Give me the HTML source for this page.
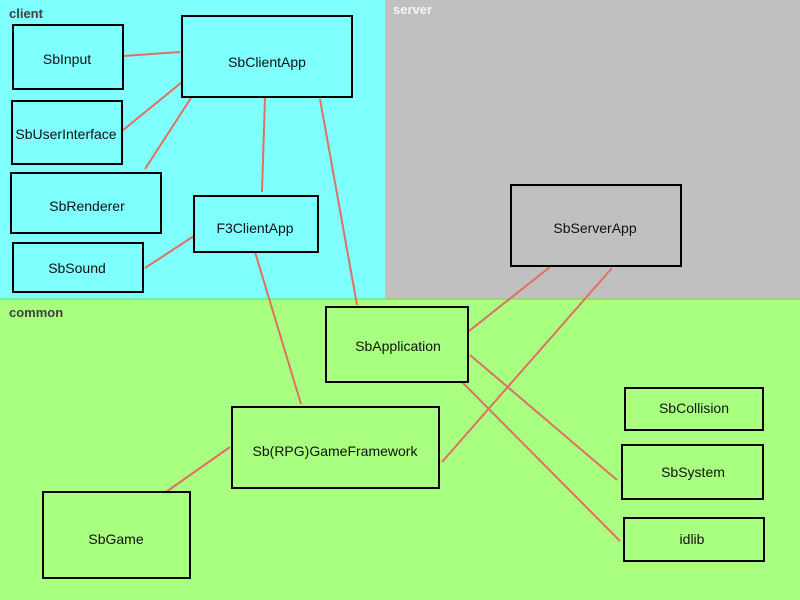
<!DOCTYPE html>
<html><head><style>
html,body{margin:0;padding:0;width:800px;height:600px;overflow:hidden}
svg text{font-family:"Liberation Sans",sans-serif}
</style></head><body>
<svg width="800" height="600" viewBox="0 0 800 600" xmlns="http://www.w3.org/2000/svg">
<rect x="0" y="0" width="385" height="299" fill="#80ffff"/>
<rect x="385" y="0" width="415" height="299" fill="#c0c0c0"/>
<rect x="0" y="299" width="800" height="301" fill="#a8ff80"/>
<line x1="0" y1="299" x2="385" y2="299" stroke="#70f0b0" stroke-width="2"/>
<line x1="385" y1="299" x2="800" y2="299" stroke="#a0d090" stroke-width="2"/>
<text x="9" y="18" font-size="13" font-weight="bold" fill="#404040">client</text>
<text x="393" y="14" font-size="13" font-weight="bold" fill="#f4f4f4">server</text>
<text x="9" y="317" font-size="13" font-weight="bold" fill="#404040">common</text>
<g stroke="#e07060" stroke-width="2" fill="none">
<line x1="123" y1="56" x2="180" y2="52"/>
<line x1="122" y1="131" x2="182" y2="82"/>
<line x1="145" y1="169" x2="191" y2="98"/>
<line x1="265" y1="98" x2="262" y2="192"/>
<line x1="320" y1="99" x2="357" y2="305"/>
<line x1="145" y1="268" x2="194" y2="236"/>
<line x1="255" y1="252" x2="301" y2="404"/>
<line x1="469" y1="331" x2="550" y2="267"/>
<line x1="442" y1="462" x2="612" y2="268"/>
<line x1="470" y1="355" x2="617" y2="480"/>
<line x1="462" y1="382" x2="620" y2="541"/>
<line x1="166" y1="492" x2="230" y2="447"/>
</g>
<g stroke="#000" stroke-width="2" fill="none">
<rect x="13" y="25" width="110" height="64"/>
<rect x="12" y="101" width="110" height="63"/>
<rect x="11" y="173" width="150" height="60"/>
<rect x="13" y="243" width="130" height="49"/>
<rect x="182" y="16" width="170" height="81"/>
<rect x="194" y="196" width="124" height="56"/>
<rect x="511" y="185" width="170" height="81"/>
<rect x="326" y="307" width="142" height="75"/>
<rect x="232" y="407" width="207" height="81"/>
<rect x="43" y="492" width="147" height="86"/>
<rect x="625" y="388" width="138" height="42"/>
<rect x="622" y="445" width="141" height="54"/>
<rect x="624" y="518" width="140" height="43"/>
</g>
<g font-size="14" fill="#111" text-anchor="middle">
<text x="67" y="64">SbInput</text>
<text x="66" y="139">SbUserInterface</text>
<text x="87" y="211">SbRenderer</text>
<text x="77" y="273">SbSound</text>
<text x="267" y="67">SbClientApp</text>
<text x="255" y="233">F3ClientApp</text>
<text x="595" y="233">SbServerApp</text>
<text x="398" y="351">SbApplication</text>
<text x="335" y="456">Sb(RPG)GameFramework</text>
<text x="116" y="544">SbGame</text>
<text x="694" y="413">SbCollision</text>
<text x="693" y="477">SbSystem</text>
<text x="692" y="544">idlib</text>
</g>
</svg>
</body></html>
